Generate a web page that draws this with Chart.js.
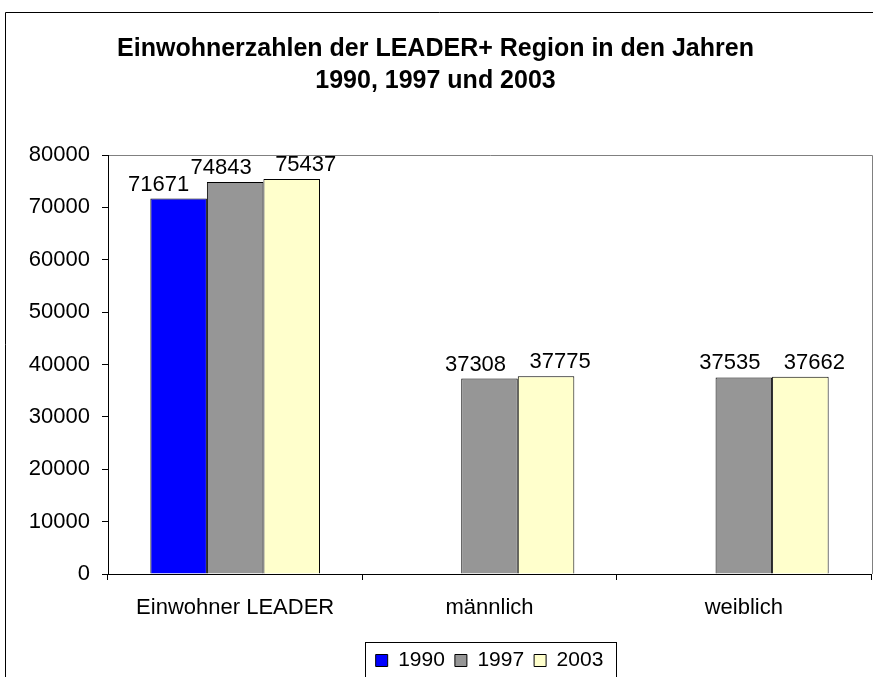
<!DOCTYPE html>
<html>
<head>
<meta charset="utf-8">
<script src="https://cdn.jsdelivr.net/npm/chart.js@4/dist/chart.umd.min.js"></script>
<style>
  body { margin: 0; background: #fff; }
</style>
</head>
<body>
<canvas id="einwohner" width="873" height="677"></canvas>
<script>
// Werte
var kategorien = ["Einwohner LEADER", "männlich", "weiblich"];
var jahre = ["1990", "1997", "2003"];
var werte1990 = [71671, null, null];
var werte1997 = [74843, 37308, 37535];
var werte2003 = [75437, 37775, 37662];

var schrift = "'Liberation Sans', Arial, sans-serif";

// Rahmen um das ganze Diagramm + Rahmen der Zeichenflaeche
var rahmenPlugin = {
    id: "rahmen",
    beforeDraw: function(chart) {
        var ctx = chart.ctx;
        ctx.save();
        ctx.fillStyle = "#fff";
        ctx.fillRect(0, 0, chart.width, chart.height);
        ctx.strokeStyle = "#000";
        ctx.lineWidth = 1;
        ctx.beginPath();
        ctx.moveTo(5.5, chart.height);
        ctx.lineTo(5.5, 12.5);
        ctx.lineTo(chart.width, 12.5);
        ctx.stroke();
        var a = chart.chartArea;
        ctx.strokeStyle = "#808080";
        ctx.beginPath();
        ctx.moveTo(a.left, Math.round(a.top) + 0.5);
        ctx.lineTo(Math.round(a.right) + 1.5, Math.round(a.top) + 0.5);
        ctx.lineTo(Math.round(a.right) + 1.5, a.bottom);
        ctx.stroke();
        ctx.restore();
    },
    // Legende unter die Zeichenflaeche schieben (wie im Original)
    afterLayout: function(chart) {
        var lg = chart.legend;
        if (!lg) return;
        var dx = (chart.chartArea.left + chart.chartArea.right) / 2 - (lg.left + lg.right) / 2;
        lg.top += 4;
        lg.bottom += 4;
        lg.left += dx;
        lg.right += dx;
    }
};

// Zahlen ueber den Saeulen
var werteLabels = {
    id: "werteLabels",
    afterDatasetsDraw: function(chart, args, opts) {
        var ctx = chart.ctx;
        ctx.save();
        ctx.font = "22px " + schrift;
        ctx.fillStyle = "#000";
        ctx.textAlign = "center";
        ctx.textBaseline = "bottom";
        chart.data.datasets.forEach(function(ds, i) {
            var meta = chart.getDatasetMeta(i);
            meta.data.forEach(function(bar, j) {
                if (ds.data[j] == null) return;
                ctx.fillText(String(ds.data[j]), bar.x + opts.shift[i], bar.y - 3);
            });
        });
        ctx.restore();
    }
};

// Kasten um die Legende
var legendenKasten = {
    id: "legendenKasten",
    afterDraw: function(chart) {
        var lg = chart.legend;
        if (!lg || !lg.legendHitBoxes.length) return;
        var l = Infinity, r = -Infinity;
        lg.legendHitBoxes.forEach(function(h) {
            l = Math.min(l, h.left);
            r = Math.max(r, h.left + h.width);
        });
        var ctx = chart.ctx;
        ctx.save();
        ctx.strokeStyle = "#000";
        ctx.lineWidth = 1;
        ctx.strokeRect(Math.round(l - 11) + 0.5, Math.round(lg.top) + 2.5, Math.round(r - l + 23), 60);
        ctx.restore();
    }
};

new Chart("einwohner", {
    type: "bar",
    data: {
        labels: kategorien,
        datasets: [
            { label: jahre[0], data: werte1990, backgroundColor: "#0000FF", borderColor: "#000", borderWidth: 1 },
            { label: jahre[1], data: werte1997, backgroundColor: "#969696", borderColor: "#000", borderWidth: 1 },
            { label: jahre[2], data: werte2003, backgroundColor: "#FFFFCC", borderColor: "#000", borderWidth: 1 }
        ]
    },
    plugins: [rahmenPlugin, werteLabels, legendenKasten],
    options: {
        responsive: false,
        animation: false,
        categoryPercentage: 0.667,
        barPercentage: 1,
        layout: { padding: { left: 0, right: 2, top: 0, bottom: 0 } },
        plugins: {
            title: {
                display: true,
                text: ["Einwohnerzahlen der LEADER+ Region in den Jahren", "1990, 1997 und 2003"],
                color: "#000",
                font: { family: schrift, size: 25, weight: "bold", lineHeight: 1.28 },
                padding: { top: 33, bottom: 58 }
            },
            legend: {
                position: "bottom",
                labels: {
                    color: "#000",
                    font: { family: schrift, size: 21 },
                    boxWidth: 12,
                    boxHeight: 12,
                    padding: 10
                }
            },
            tooltip: { enabled: false },
            werteLabels: { shift: [-20, -14, 14] }
        },
        scales: {
            x: {
                grid: { drawOnChartArea: false, offset: true, tickLength: 6, color: "#000" },
                border: { color: "#000" },
                ticks: { color: "#000", font: { family: schrift, size: 22 }, padding: 15 },
                afterFit: function(scale) { scale.height = 62; }
            },
            y: {
                min: 0,
                max: 80000,
                ticks: {
                    stepSize: 10000,
                    color: "#000",
                    font: { family: schrift, size: 22 },
                    padding: 12,
                    callback: function(v) { return String(v); }
                },
                grid: { drawOnChartArea: false, tickLength: 6, color: "#000" },
                border: { color: "#000" },
                afterFit: function(scale) { scale.width = 108; }
            }
        }
    }
});
</script>
</body>
</html>
